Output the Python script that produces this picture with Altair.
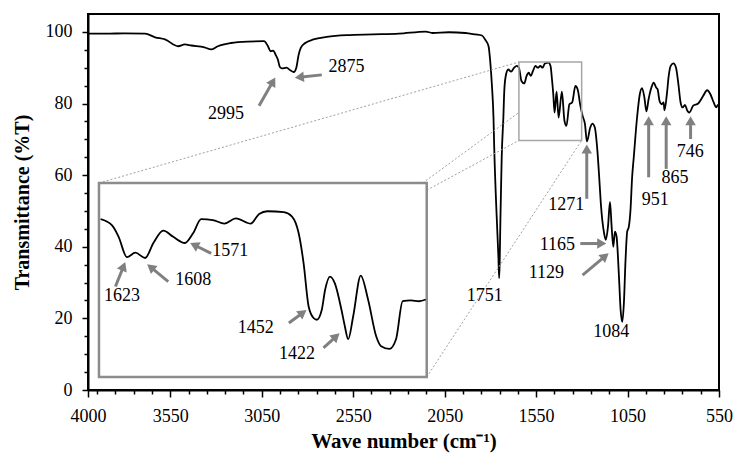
import math
import altair as alt
import pandas as pd

# ---------------- main FTIR spectrum ----------------
wavenumber = [4000, 3900, 3800, 3688, 3633, 3579, 3507, 3471, 3435, 3363, 3327, 3290, 3218, 3128,
              3038, 3016, 3002, 2987, 2975, 2962, 2951, 2939, 2915, 2894, 2875, 2861, 2848, 2836,
              2812, 2767, 2695, 2586, 2442, 2300, 2153, 2117, 2027, 1937, 1882, 1846, 1828, 1810,
              1801, 1792, 1783, 1779, 1766, 1756, 1752, 1749, 1745, 1741, 1738, 1729, 1724, 1716,
              1702, 1687, 1670, 1656, 1644, 1630, 1615, 1602, 1590, 1579, 1567, 1554, 1540, 1527,
              1514, 1503, 1482, 1471, 1464, 1456, 1449, 1438, 1427, 1409, 1395, 1384, 1368, 1353,
              1335, 1323, 1308, 1296, 1283, 1272, 1254, 1242, 1229, 1215, 1205, 1196, 1178, 1169,
              1157, 1146, 1137, 1128, 1119, 1110, 1097, 1088, 1079, 1070, 1061, 1052, 1043, 1034,
              1025, 1016, 998, 983, 971, 958, 947, 935, 920, 907, 893, 886, 875, 863, 853, 848,
              835, 825, 814, 799, 785, 772, 760, 749, 736, 723, 712, 691, 664, 637, 615, 597, 579,
              565, 556, 550]
transmittance = [99.5, 99.5, 99.6, 99.5, 98.5, 97.9, 96.0, 96.5, 96.2, 95.7, 95.1, 96.0, 96.9, 97.3,
                 97.4, 96.0, 94.6, 94.8, 93.7, 92.3, 90.2, 89.8, 90.0, 89.3, 88.8, 90.0, 93.7, 95.6,
                 96.9, 97.9, 98.6, 99.1, 99.3, 99.5, 100.1, 99.7, 99.9, 99.7, 99.3, 99.0, 97.8, 96.0,
                 91.9, 85.4, 76.1, 67.8, 49.0, 37.0, 31.2, 36.0, 48.0, 58.0, 65.0, 76.1, 83.5, 87.7,
                 89.5, 88.9, 90.0, 90.5, 90.0, 86.3, 85.6, 87.7, 88.6, 87.7, 89.1, 90.5, 90.0, 90.5,
                 90.0, 91.1, 91.4, 90.5, 87.2, 82.6, 77.5, 83.3, 76.1, 83.3, 75.2, 73.8, 79.8, 80.3,
                 84.9, 84.0, 79.4, 76.6, 74.3, 69.4, 73.3, 74.4, 73.3, 66.9, 59.4, 52.0, 43.7, 41.9,
                 45.6, 52.5, 45.6, 40.0, 44.2, 42.8, 31.7, 22.4, 19.0, 24.3, 36.3, 44.2, 45.6, 50.2,
                 59.4, 65.0, 76.1, 82.6, 84.3, 81.7, 77.8, 81.2, 84.4, 85.8, 84.4, 84.0, 80.7, 79.8,
                 80.3, 78.1, 82.6, 87.7, 90.5, 91.2, 90.0, 85.4, 80.3, 78.9, 79.6, 78.0, 77.5, 79.4,
                 80.0, 82.1, 83.7, 82.6, 80.3, 78.9, 79.6, 79.4]

# ---------------- inset (magnified 1650-1350 cm-1) ----------------
inset_wavenumber = [1648.5, 1638, 1632, 1624.4, 1616.7, 1607.7, 1600.2, 1591.1, 1582, 1571.4, 1563.9,
                    1556.4, 1545.8, 1535.2, 1524.7, 1511.1, 1503.4, 1495.9, 1480.8, 1473.3, 1467.2,
                    1462.7, 1458.1, 1453.6, 1450.6, 1446.1, 1443, 1438.5, 1434, 1428, 1425, 1421.9,
                    1417.3, 1410.4, 1403.7, 1396.2, 1391.7, 1384.2, 1378.1, 1372, 1364.5, 1357, 1350.9]
inset_transmittance = [87.9, 87.2, 85.9, 83.6, 84.1, 83.5, 85.2, 86.6, 85.9, 85.2, 86.3,
                       87.9, 87.8, 87.4, 88.0, 87.4, 88.5, 88.8, 88.7, 88.2, 86.3,
                       82.9, 78.0, 76.7, 76.5, 77.6, 79.9, 81.4, 80.6, 77.6, 75.8, 74.3,
                       76.9, 81.5, 78.8, 74.6, 73.5, 73.2, 74.3, 78.6, 78.7, 78.6, 78.8]

# ---------------- annotations ----------------
main_labels = ["2995", "2875", "1751", "1084", "1129", "1165", "1271", "951", "865", "746"]
main_label_wn = [3245.6, 2586.5, 1831, 1139, 1494, 1434, 1385.7, 898, 790, 707]
main_label_t = [77.0, 90.2, 26.2, 16.25, 32.6, 40.6, 51.6, 53.0, 59.3, 66.5]

main_arrow_tail_wn = [3064.7, 2721.8, 1273, 934.6, 838.7, 705.4, 1308.3, 1296]
main_arrow_tail_t = [79.4, 88.0, 53.4, 59.4, 61.75, 70.1, 40.9, 32.1]
main_arrow_tip_wn = [2974.8, 2871.8, 1273, 934.6, 838.7, 705.4, 1163.7, 1151.2]
main_arrow_tip_t = [87.4, 87.2, 68.7, 76.6, 76.6, 76.6, 40.9, 38.3]

inset_labels = ["1623", "1608", "1571", "1452", "1422"]
inset_label_wn = [1628.9, 1563.6, 1529.9, 1506.5, 1468.7]
inset_label_t = [79.14, 81.02, 84.33, 75.56, 72.65]

inset_arrow_tail_wn = [1634.9, 1586.6, 1547.3, 1476.2, 1444.5]
inset_arrow_tail_t = [80.27, 80.83, 84.02, 76.13, 73.31]
inset_arrow_tip_wn = [1625.8, 1606.2, 1566.9, 1459.7, 1429.5]
inset_arrow_tip_t = [83.09, 82.83, 85.23, 77.64, 75.0]

# zoom box on the main spectrum, inset frame position (main coords) and dotted guides
zoom_box_wn = [1644, 1301]
zoom_box_t = [69.7, 91.6]
inset_frame_wn = [3940, 2148]
inset_frame_t = [3.6, 57.8]
guide_wn1 = [3940, 2170, 2148, 2148]
guide_t1 = [57.8, 57.8, 55.8, 3.6]
guide_wn2 = [1644, 1644, 1644, 1301]
guide_t2 = [91.6, 77.5, 69.7, 69.7]

x_major = [4000, 3550, 3050, 2550, 2050, 1550, 1050, 550]
x_minor = [v for v in range(650, 4000, 100) if v not in x_major]
y_major = [0, 20, 40, 60, 80, 100]
y_minor = [v for v in range(5, 105, 5) if v not in y_major]

# ---------------- layout ----------------
W, H = 631, 376
X_DOM = [550, 4000]
Y_DOM = [0, 105]
INSET_X_DOM = [1350, 1650]
INSET_Y_DOM = [70, 92]

kx_main = W / (X_DOM[1] - X_DOM[0])
ky_main = H / (Y_DOM[1] - Y_DOM[0])
# pixel range of the inset frame inside the plot area, from its main-chart coordinates
INSET_X_RANGE = [(X_DOM[1] - inset_frame_wn[1]) * kx_main, (X_DOM[1] - inset_frame_wn[0]) * kx_main]
INSET_Y_RANGE = [H - inset_frame_t[0] * ky_main, H - inset_frame_t[1] * ky_main]

FONT = "Liberation Serif"
ARROW_COLOR = "#808080"


def xs():
    return alt.Scale(domain=X_DOM, reverse=True, nice=False, zero=False)


def ys():
    return alt.Scale(domain=Y_DOM, nice=False, zero=False)


def xs_in():
    return alt.Scale(domain=INSET_X_DOM, range=INSET_X_RANGE, nice=False, zero=False)


def ys_in():
    return alt.Scale(domain=INSET_Y_DOM, range=INSET_Y_RANGE, nice=False, zero=False)


def arrow_frames(tw, tt, hw, ht, kx, ky, back=5.0):
    lines, heads = [], []
    for a, b, c, d in zip(tw, tt, hw, ht):
        dx = (a - c) * kx
        dy = (b - d) * ky
        L = math.hypot(dx, dy)
        ux, uy = dx / L, dy / L
        ang = math.degrees(math.atan2(ux, -uy)) % 360
        cw = c + back * ux / kx
        ct = d + back * uy / ky
        lines.append({"x1": a, "y1": b, "x2": cw, "y2": ct})
        heads.append({"x": cw, "y": ct, "ang": ang})
    return pd.DataFrame(lines), pd.DataFrame(heads)


kx_in = abs(INSET_X_RANGE[0] - INSET_X_RANGE[1]) / (INSET_X_DOM[1] - INSET_X_DOM[0])
ky_in = abs(INSET_Y_RANGE[0] - INSET_Y_RANGE[1]) / (INSET_Y_DOM[1] - INSET_Y_DOM[0])

main_lines, main_heads = arrow_frames(main_arrow_tail_wn, main_arrow_tail_t,
                                      main_arrow_tip_wn, main_arrow_tip_t, kx_main, ky_main)
in_lines, in_heads = arrow_frames(inset_arrow_tail_wn, inset_arrow_tail_t,
                                  inset_arrow_tip_wn, inset_arrow_tip_t, kx_in, ky_in)

spec_df = pd.DataFrame({"wn": wavenumber, "t": transmittance, "idx": range(len(wavenumber))})
inset_df = pd.DataFrame({"wn": inset_wavenumber, "t": inset_transmittance,
                         "idx": range(len(inset_wavenumber))})

maj_x_expr = "indexof(" + str(x_major) + ", datum.value) >= 0"
maj_y_expr = "indexof(" + str(y_major) + ", datum.value) >= 0"

x_axis = alt.Axis(values=x_major + x_minor, orient="bottom", title="Wave number (cm⁻¹)",
                  labelExpr=maj_x_expr + " ? format(datum.value, 'd') : ''",
                  tickSize={"condition": {"test": maj_x_expr, "value": 7}, "value": 4},
                  labelPadding=10, titlePadding=5, titleFontSize=21,
                  labelFlush=False, labelOverlap=False, grid=False)
y_axis = alt.Axis(values=y_major + y_minor, orient="left", title="Transmittance (%T)",
                  labelExpr=maj_y_expr + " ? format(datum.value, 'd') : ''",
                  tickSize={"condition": {"test": maj_y_expr, "value": 6}, "value": 4},
                  labelPadding=10, titlePadding=13, labelOverlap=False, grid=False)

curve = alt.Chart(spec_df).mark_line(color="black", strokeWidth=1.8, interpolate="monotone").encode(
    x=alt.X("wn:Q", scale=xs(), axis=x_axis),
    y=alt.Y("t:Q", scale=ys(), axis=y_axis),
    order="idx:Q",
)

box_df = pd.DataFrame({"x1": [zoom_box_wn[0]], "x2": [zoom_box_wn[1]],
                       "y1": [zoom_box_t[0]], "y2": [zoom_box_t[1]]})
zoom_box = alt.Chart(box_df).mark_rect(fillOpacity=0, stroke="#a6a6a6", strokeWidth=1.5).encode(
    x=alt.X("x1:Q", scale=xs(), axis=None), x2="x2:Q",
    y=alt.Y("y1:Q", scale=ys(), axis=None), y2="y2:Q",
)

guide_df = pd.DataFrame({"x1": guide_wn1, "y1": guide_t1, "x2": guide_wn2, "y2": guide_t2})
guides = alt.Chart(guide_df).mark_rule(color="#a0a0a0", strokeWidth=1, strokeDash=[2, 2]).encode(
    x=alt.X("x1:Q", scale=xs(), axis=None), x2="x2:Q",
    y=alt.Y("y1:Q", scale=ys(), axis=None), y2="y2:Q",
)

m_arrow_lines = alt.Chart(main_lines).mark_rule(color=ARROW_COLOR, strokeWidth=3).encode(
    x=alt.X("x1:Q", scale=xs(), axis=None), x2="x2:Q",
    y=alt.Y("y1:Q", scale=ys(), axis=None), y2="y2:Q",
)
m_arrow_heads = alt.Chart(main_heads).mark_point(shape="triangle-up", filled=True, size=110,
                                                 color=ARROW_COLOR, opacity=1).encode(
    x=alt.X("x:Q", scale=xs(), axis=None),
    y=alt.Y("y:Q", scale=ys(), axis=None),
    angle=alt.Angle("ang:Q", scale=None),
)
m_text = alt.Chart(pd.DataFrame({"label": main_labels, "x": main_label_wn, "y": main_label_t})).mark_text(
    font=FONT, fontSize=18, color="black", align="center", baseline="middle").encode(
    x=alt.X("x:Q", scale=xs(), axis=None),
    y=alt.Y("y:Q", scale=ys(), axis=None),
    text="label:N",
)

# ---------------- inset layers ----------------
frame_df = pd.DataFrame({"x1": [INSET_X_DOM[1]], "x2": [INSET_X_DOM[0]],
                         "y1": [INSET_Y_DOM[0]], "y2": [INSET_Y_DOM[1]]})
frame = alt.Chart(frame_df).mark_rect(fill="white", stroke="#8c8c8c", strokeWidth=2.5).encode(
    x=alt.X("x1:Q", scale=xs_in(), axis=None), x2="x2:Q",
    y=alt.Y("y1:Q", scale=ys_in(), axis=None), y2="y2:Q",
)
inset_curve = alt.Chart(inset_df).mark_line(color="black", strokeWidth=1.8, interpolate="monotone").encode(
    x=alt.X("wn:Q", scale=xs_in(), axis=None),
    y=alt.Y("t:Q", scale=ys_in(), axis=None),
    order="idx:Q",
)
i_arrow_lines = alt.Chart(in_lines).mark_rule(color=ARROW_COLOR, strokeWidth=3).encode(
    x=alt.X("x1:Q", scale=xs_in(), axis=None), x2="x2:Q",
    y=alt.Y("y1:Q", scale=ys_in(), axis=None), y2="y2:Q",
)
i_arrow_heads = alt.Chart(in_heads).mark_point(shape="triangle-up", filled=True, size=110,
                                               color=ARROW_COLOR, opacity=1).encode(
    x=alt.X("x:Q", scale=xs_in(), axis=None),
    y=alt.Y("y:Q", scale=ys_in(), axis=None),
    angle=alt.Angle("ang:Q", scale=None),
)
i_text = alt.Chart(pd.DataFrame({"label": inset_labels, "x": inset_label_wn, "y": inset_label_t})).mark_text(
    font=FONT, fontSize=18, color="black", align="center", baseline="middle").encode(
    x=alt.X("x:Q", scale=xs_in(), axis=None),
    y=alt.Y("y:Q", scale=ys_in(), axis=None),
    text="label:N",
)

chart = alt.layer(
    curve, guides, zoom_box, m_arrow_lines, m_arrow_heads, m_text,
    frame, inset_curve, i_arrow_lines, i_arrow_heads, i_text,
).resolve_scale(x="independent", y="independent").properties(
    width=W, height=H,
    padding={"left": 80, "top": 6, "right": 14, "bottom": 63},
    autosize=alt.AutoSizeParams(type="none"),
).configure_view(
    stroke="black", strokeWidth=2
).configure_axis(
    labelFont=FONT, labelFontSize=18, labelColor="black",
    titleFont=FONT, titleFontSize=20, titleFontWeight="bold", titleColor="black",
    domainColor="black", domainWidth=2, tickColor="black", tickWidth=1.5,
)

chart.save("out.html", embed_options={"renderer": "svg", "actions": False})
